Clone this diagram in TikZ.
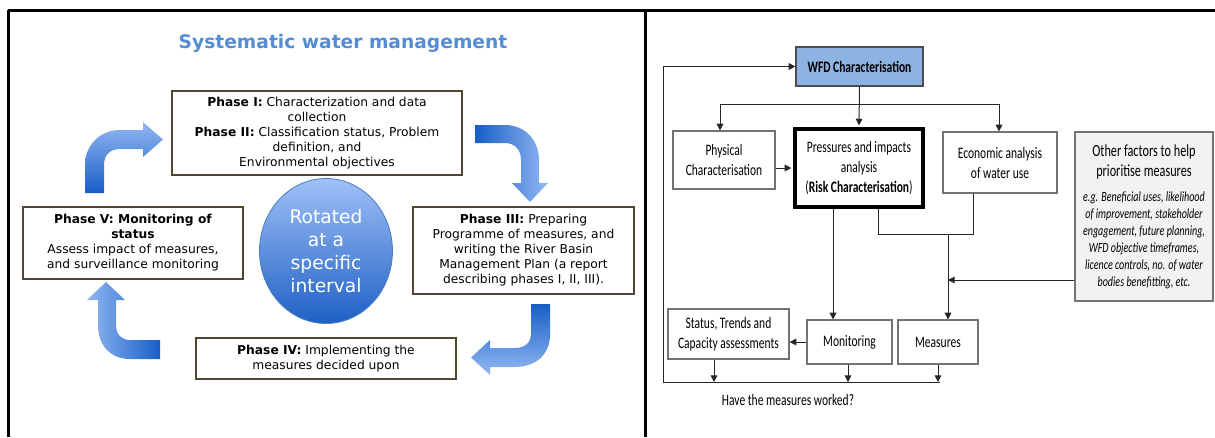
\documentclass[tikz,border=0pt]{standalone}
\usepackage{fontspec}
\setmainfont{DejaVu Sans}
\newfontfamily\calfont[FakeStretch=0.72]{Carlito}
\usetikzlibrary{arrows.meta,shapes.geometric}

\definecolor{titleblue}{RGB}{84,141,212}
\definecolor{arrowlight}{RGB}{146,184,242}
\definecolor{arrowdark}{RGB}{24,94,198}
\definecolor{ringtop}{RGB}{160,192,247}
\definecolor{ringbottom}{RGB}{30,96,196}
\definecolor{ringedge}{RGB}{74,126,187}
\definecolor{phaseborder}{RGB}{78,72,50}
\definecolor{wfdfill}{RGB}{141,179,226}
\definecolor{factorfill}{RGB}{242,242,242}

\tikzset{
	phasebox/.style={draw=phaseborder, line width=1.8pt, fill=white, align=center, inner sep=0pt, font=\fontsize{9.2}{11.25}\selectfont},
	flowbox/.style={draw=black!55, line width=0.9pt, fill=white, align=center, inner sep=0pt, font=\calfont\fontsize{12}{15}\selectfont},
	flowarrow/.style={-{Triangle[length=5pt,width=5pt]}, line width=0.75pt, draw=black!85},
	flowline/.style={line width=0.75pt, draw=black!85}}
\tikzset{every picture/.style={line width=0.75pt}}
\newcommand{\factorhead}[1]{{\upshape\fontsize{12.75}{14}\selectfont #1}}

\begin{document}
\begin{tikzpicture}[x=0.75pt,y=0.75pt,yscale=-1,xscale=1]
	\useasboundingbox (0,0) rectangle (1215,437);

	%Frame lines
	\draw [line width=2.25pt] (8,10) -- (1215,10) ;
	\draw [line width=2.25pt] (8.5,10) -- (8.5,437) ;
	\draw [line width=2.25pt] (645,10) -- (645,437) ;

	% Text Node
	\node [font=\bfseries\fontsize{14}{17}\selectfont, text=titleblue] (title) at (343,43) {Systematic water management};

	%Shape: Ellipse
	\node [ellipse, draw=ringedge, line width=0.6pt, top color=ringtop, bottom color=ringbottom, minimum width=99.75pt, minimum height=108.75pt, inner sep=0pt, align=center, text=white, font=\fontsize{14}{17.25}\selectfont] (cycle) at (326,251) {Rotated\\at a\\specific\\interval};

	%Shape: Bent Arrow
	\shade [top color=arrowlight, bottom color=arrowdark] (85,193) -- (85,165) .. controls (85,145) and (100,130) .. (120,130) -- (143,130) -- (143,122) -- (163,139.5) -- (143,157) -- (143,149) -- (120,149) .. controls (110,149) and (104,155) .. (104,165) -- (104,193) -- cycle ;
	%Shape: Bent Arrow
	\shade [left color=arrowdark, right color=arrowlight] (475,125) -- (505,125) .. controls (525,125) and (539,140) .. (539,160) -- (539,183) -- (548,183) -- (530,202) -- (512,183) -- (521,183) -- (521,160) .. controls (521,150) and (515,143) .. (505,143) -- (475,143) -- cycle ;
	%Shape: Bent Arrow
	\shade [top color=arrowdark, bottom color=arrowlight] (531,304) -- (550,304) -- (550,335) .. controls (550,355) and (535,367) .. (515,367) -- (490,367) -- (490,375) -- (471,357.5) -- (490,340) -- (490,348) -- (515,348) .. controls (525,348) and (531,342) .. (531,335) -- cycle ;
	%Shape: Bent Arrow
	\shade [left color=arrowlight, right color=arrowdark] (160,340) -- (160,359) -- (130,359) .. controls (110,359) and (98,345) .. (98,325) -- (98,300) -- (87,300) -- (106,282) -- (125,300) -- (116,300) -- (116,325) .. controls (116,335) and (122,340) .. (130,340) -- cycle ;

	%Phase boxes
	\node [phasebox, minimum width=217.5pt, minimum height=63pt] (phaseI) at (317,133) {\textbf{Phase I:} Characterization and data\\collection\\\textbf{Phase II:} Classification status, Problem\\definition, and\\Environmental objectives};
	\node [phasebox, minimum width=165.75pt, minimum height=65.25pt] (phaseIII) at (523.5,250.5) {\textbf{Phase III:} Preparing\\Programme of measures, and\\writing the River Basin\\Management Plan (a report\\describing phases I, II, III).};
	\node [phasebox, minimum width=195pt, minimum height=30.75pt] (phaseIV) at (326,358.5) {\textbf{Phase IV:} Implementing the\\measures decided upon};
	\node [phasebox, minimum width=165pt, minimum height=54pt] (phaseV) at (133,243) {\textbf{Phase V: Monitoring of}\\\textbf{status}\\Assess impact of measures,\\and surveillance monitoring};

	%Flow boxes
	\node [flowbox, fill=wfdfill, draw=black!70, font=\calfont\bfseries\fontsize{12}{15}\selectfont, minimum width=95.25pt, minimum height=29.25pt] (wfd) at (859.5,66.5) {WFD Characterisation};
	\node [flowbox, minimum width=76.5pt, minimum height=43.5pt] (physical) at (724,160) {Physical\\Characterisation};
	\node [flowbox, draw=black, line width=3pt, minimum width=96pt, minimum height=58.5pt] (pressures) at (859,168) {Pressures and impacts\\analysis\\(\textbf{Risk Characterisation})};
	\node [flowbox, minimum width=85.5pt, minimum height=45.75pt] (economic) at (1000,162.5) {Economic analysis\\of water use};
	\node [flowbox, fill=factorfill, minimum width=103.5pt, minimum height=126.75pt, font=\calfont\itshape\fontsize{10.5}{12.75}\selectfont] (factors) at (1144,216.5) {\factorhead{Other factors to help}\\[2pt]\factorhead{prioritise measures}\\[6pt]e.g. Beneficial uses, likelihood\\of improvement, stakeholder\\engagement, future planning,\\WFD objective timeframes,\\licence controls, no. of water\\bodies benefitting, etc.};
	\node [flowbox, minimum width=90.75pt, minimum height=37.5pt] (status) at (728.5,334) {Status, Trends and\\Capacity assessments};
	\node [flowbox, minimum width=63.75pt, minimum height=33pt] (monitoring) at (849.5,342) {Monitoring};
	\node [flowbox, minimum width=60pt, minimum height=33pt] (measures) at (938,342) {Measures};
	% Text Node
	\node [font=\calfont\fontsize{12}{14}\selectfont] (question) at (788,400) {Have the measures worked?};

	%Connectors
	\coordinate (branchL) at (720,104);
	\coordinate (branchR) at (999,104);
	\coordinate (monIn) at (833,320);
	\coordinate (joinL) at (878,234);
	\coordinate (joinR) at (973,234);
	\coordinate (merge) at (948,234);
	\coordinate (factorIn) at (948,280);
	\coordinate (loopCorner) at (663,382);
	\coordinate (loopEnd) at (940,382);
	\coordinate (outStatus) at (714,382);
	\coordinate (outMon) at (848,382);
	\coordinate (outMeas) at (938,382);

	\draw [flowarrow] (loopEnd) -- (loopCorner) |- (wfd.west) ;
	\draw [flowline] (branchL) -- (branchR) ;
	\draw [flowarrow] (branchL) -- (physical.north -| branchL) ;
	\draw [flowarrow] (branchR) -- (economic.north -| branchR) ;
	\draw [flowarrow, shorten >=1.2pt] (wfd.south) -- (pressures.north) ;
	\draw [flowarrow, shorten >=1.2pt] (physical.east |- pressures.west) -- (pressures.west) ;
	\draw [flowarrow] (pressures.south -| monIn) -- (monitoring.north -| monIn) ;
	\draw [flowline] (pressures.south -| joinL) -- (joinL) -- (joinR) -- (economic.south -| joinR) ;
	\draw [flowarrow] (merge) -- (measures.north -| merge) ;
	\draw [flowarrow] (factors.west |- factorIn) -- (factorIn) ;
	\draw [flowarrow] (monitoring.west) -- (monitoring.west -| status.east) ;
	\draw [flowarrow] (status.south -| outStatus) -- (outStatus) ;
	\draw [flowarrow] (monitoring.south -| outMon) -- (outMon) ;
	\draw [flowarrow] (measures.south -| outMeas) -- (outMeas) ;

\end{tikzpicture}
\end{document}
